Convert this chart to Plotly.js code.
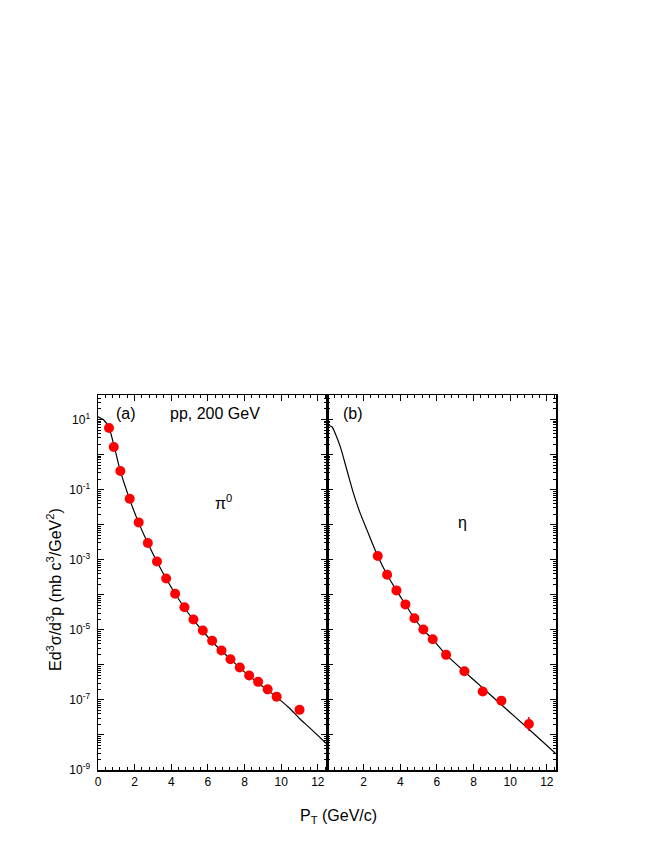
<!DOCTYPE html>
<html>
<head>
<meta charset="utf-8">
<script src="https://cdn.plot.ly/plotly-3.0.1.min.js"></script>
<style>
  body { margin: 0; background: #fff; }
  #chart { width: 654px; height: 846px; }
</style>
</head>
<body>
<div id="chart"></div>
<script>
// Panel (a): pi0 data points, pp at 200 GeV
const piPt = [0.60, 0.86, 1.22, 1.73, 2.22, 2.72, 3.22, 3.72, 4.21, 4.72, 5.21, 5.72, 6.23, 6.74, 7.23, 7.74, 8.25, 8.74, 9.26, 9.75, 11.0];
const piYield = [5.75, 1.65, 0.34, 0.055, 0.0116, 0.00298, 8.9e-4, 2.9e-4, 1.07e-4, 4.4e-5, 1.97e-5, 9.5e-6, 4.85e-6, 2.56e-6, 1.45e-6, 8.4e-7, 4.95e-7, 3.27e-7, 2.0e-7, 1.24e-7, 5.2e-8];

// Panel (a): fit curve
const piCurvePt = [0, 0.3, 0.6, 0.9, 1.2, 1.7, 2.2, 2.7, 3.2, 3.7, 4.2, 4.7, 5.2, 5.7, 6.2, 6.7, 7.2, 7.7, 8.2, 8.7, 9.2, 9.75, 10.5, 11.0, 11.5, 12.5];
const piCurveY = [12.0, 9.8, 5.8, 1.6, 0.37, 0.058, 0.012, 0.0031, 9.2e-4, 3.0e-4, 1.1e-4, 4.4e-5, 1.95e-5, 9.4e-6, 4.8e-6, 2.6e-6, 1.5e-6, 8.6e-7, 5.1e-7, 3.15e-7, 1.98e-7, 1.2e-7, 5.5e-8, 2.95e-8, 1.7e-8, 5.5e-9];

// Panel (b): eta data points
const etaPt = [2.77, 3.28, 3.79, 4.28, 4.77, 5.26, 5.77, 6.50, 7.50, 8.50, 9.52, 11.02];
const etaYield = [1.27e-3, 3.7e-4, 1.33e-4, 5.3e-5, 2.14e-5, 1.02e-5, 5.4e-6, 1.93e-6, 6.6e-7, 1.73e-7, 9.5e-8, 2.06e-8];
const etaErrUp = [0, 0, 0, 0, 0, 0, 0, 0, 0, 0, 0, 1.2e-8];
const etaErrDown = [0, 0, 0, 0, 0, 0, 0, 0, 0, 0, 0, 0.76e-8];

// Panel (b): fit curve
const etaCurvePt = [0, 0.27, 0.45, 0.73, 1.09, 1.45, 1.82, 2.19, 2.77, 3.28, 3.79, 4.28, 4.77, 5.26, 5.77, 6.5, 7.5, 8.5, 9.52, 11.02, 12.5];
const etaCurveY = [6.9, 6.2, 4.0, 1.65, 0.356, 0.077, 0.0206, 0.00687, 1.27e-3, 3.7e-4, 1.33e-4, 5.3e-5, 2.1e-5, 1.0e-5, 5.3e-6, 1.95e-6, 6.4e-7, 2.2e-7, 7.3e-8, 1.45e-8, 2.9e-9];

// Axis ticks
const xTicksA = [0, 2, 4, 6, 8, 10, 12];
const xTicksB = [2, 4, 6, 8, 10, 12];
const yExp = [-9, -8, -7, -6, -5, -4, -3, -2, -1, 0, 1];

const yTickVals = yExp.map(e => Math.pow(10, e));
// labels only on the odd decades
const yTickText = yExp.map(e => (e % 2 !== 0) ? '10<sup>' + e + '</sup>' : '');
const yMinorVals = [];
yExp.forEach(e => {
  for (let m = 2; m <= 9; m++) {
    const v = m * Math.pow(10, e);
    if (v <= 50) yMinorVals.push(v);
  }
});

const FONT = 'Arial, "Liberation Sans", sans-serif';
const RED = '#ff0000';

const traces = [
  {
    x: piCurvePt, y: piCurveY, xaxis: 'x', yaxis: 'y',
    type: 'scatter', mode: 'lines',
    line: { color: '#000', width: 1.2, shape: 'spline', smoothing: 0.6 },
    hoverinfo: 'skip'
  },
  {
    x: piPt, y: piYield, xaxis: 'x', yaxis: 'y',
    type: 'scatter', mode: 'markers',
    marker: { color: RED, size: 10 }
  },
  {
    x: etaCurvePt, y: etaCurveY, xaxis: 'x2', yaxis: 'y2',
    type: 'scatter', mode: 'lines',
    line: { color: '#000', width: 1.2, shape: 'spline', smoothing: 0.6 },
    hoverinfo: 'skip'
  },
  {
    x: etaPt, y: etaYield, xaxis: 'x2', yaxis: 'y2',
    type: 'scatter', mode: 'markers',
    marker: { color: RED, size: 10 },
    error_y: { type: 'data', symmetric: false, array: etaErrUp, arrayminus: etaErrDown,
               color: RED, thickness: 1.5, width: 0 }
  }
];

const xCommon = {
  range: [0, 12.5],
  showline: true, linecolor: '#000', linewidth: 1.5,
  mirror: 'allticks',
  ticks: 'inside', ticklen: 6, tickwidth: 1, tickcolor: '#000',
  minor: { tickmode: 'linear', tick0: 0, dtick: 0.4, ticks: 'inside', ticklen: 3, tickwidth: 1, tickcolor: '#000' },
  showgrid: false, zeroline: false,
  tickfont: { family: FONT, size: 12, color: '#000' }
};

const yCommon = {
  type: 'log',
  range: [-9, Math.log10(50)],
  showline: true, linecolor: '#000', linewidth: 1.5,
  mirror: 'allticks',
  ticks: 'inside', ticklen: 6, tickwidth: 1, tickcolor: '#000',
  tickmode: 'array', tickvals: yTickVals, ticktext: yTickText,
  minor: { tickmode: 'array', tickvals: yMinorVals, ticks: 'inside', ticklen: 3, tickwidth: 1, tickcolor: '#000' },
  showgrid: false, zeroline: false,
  tickfont: { family: FONT, size: 12, color: '#000' }
};

const ann = (text, x, y, extra) => Object.assign({
  text: text, xref: 'paper', yref: 'paper', x: x, y: y,
  xanchor: 'center', yanchor: 'middle', showarrow: false,
  font: { family: FONT, size: 16, color: '#000' }
}, extra || {});

const layout = {
  width: 654, height: 846,
  margin: { l: 98, r: 98, t: 395, b: 76 },
  paper_bgcolor: '#fff', plot_bgcolor: '#fff',
  showlegend: false,
  font: { family: FONT, color: '#000' },
  xaxis: Object.assign({}, xCommon, { domain: [0, 0.5], anchor: 'y', tickmode: 'array', tickvals: xTicksA }),
  xaxis2: Object.assign({}, xCommon, { domain: [0.5, 1], anchor: 'y2', tickmode: 'array', tickvals: xTicksB }),
  yaxis: Object.assign({}, yCommon, { anchor: 'x', ticklabelstandoff: 4 }),
  yaxis2: Object.assign({}, yCommon, { anchor: 'x2', matches: 'y', showticklabels: false }),
  annotations: [
    ann('(a)', 0.0612, 0.952),
    ann('pp, 200 GeV', 0.2556, 0.952),
    ann('π<sup>0</sup>', 0.275, 0.7147),
    ann('(b)', 0.557, 0.952),
    ann('η', 0.795, 0.6587),
    ann('P<sub>T</sub> (GeV/c)', 0.525, -0.125),
    ann('Ed<sup>3</sup>σ/d<sup>3</sup>p (mb c<sup>3</sup>/GeV<sup>2</sup>)', -0.096, 0.48, { textangle: -90 })
  ]
};

Plotly.newPlot('chart', traces, layout, { staticPlot: true });
</script>
</body>
</html>
